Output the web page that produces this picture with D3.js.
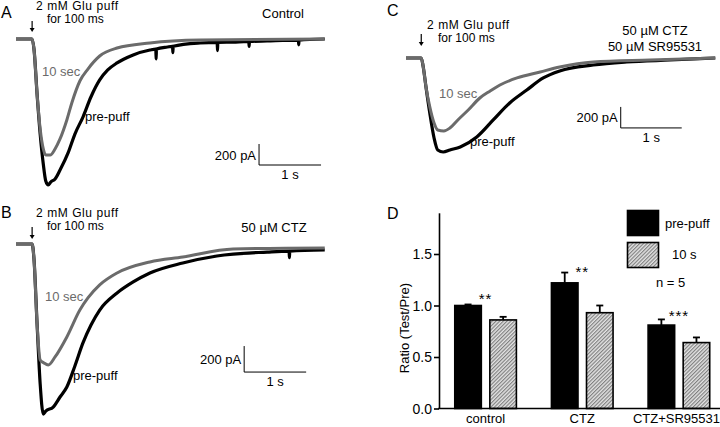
<!DOCTYPE html>
<html><head><meta charset="utf-8">
<script src="https://cdn.jsdelivr.net/npm/d3@7"></script>
<style>
html,body{margin:0;padding:0;background:#fff;}
svg text{font-family:"Liberation Sans",Arial,sans-serif;fill:#000;}
</style></head>
<body><svg id="fig" width="720" height="427"></svg>
<script>
// ---------- Trace data: [time (s), current (pA)] ----------
const traceA_pre = [[0,0],[0.26,0],[0.29,-95],[0.34,-524],[0.39,-905],[0.44,-1190],[0.48,-1352],[0.52,-1390],[0.56,-1362],[0.63,-1333],[0.71,-1248],[0.84,-1085],[0.95,-905],[1.08,-743],[1.21,-550],[1.35,-390],[1.48,-295],[1.63,-228],[1.89,-152],[2.16,-105],[2.255,-96],[2.26,-190],[2.265,-95],[2.44,-76],[2.525,-70],[2.53,-130],[2.535,-69],[2.97,-38],[3.245,-32],[3.25,-110],[3.255,-32],[3.50,-29],[3.755,-24],[3.76,-70],[3.765,-24],[4.05,-19],[4.555,-12],[4.56,-55],[4.565,-12],[4.98,0]];
const traceA_10s = [[0,0],[0.26,0],[0.29,-95],[0.34,-524],[0.39,-857],[0.44,-1047],[0.48,-1105],[0.55,-1105],[0.63,-1047],[0.71,-952],[0.82,-771],[0.90,-609],[1.03,-400],[1.16,-286],[1.35,-162],[1.63,-86],[2.16,-38],[2.97,-10],[4.98,0]];
const traceB_pre = [[0,0],[0.26,0],[0.29,-115],[0.34,-615],[0.39,-1077],[0.44,-1308],[0.48,-1285],[0.60,-1254],[0.71,-1177],[0.82,-1100],[0.95,-938],[1.08,-761],[1.21,-623],[1.35,-508],[1.63,-377],[1.89,-292],[2.16,-223],[2.69,-146],[3.24,-92],[4.05,-62],[4.405,-55],[4.41,-105],[4.415,-55],[4.98,-46]];
const traceB_10s = [[0,0],[0.26,0],[0.29,-115],[0.34,-615],[0.39,-892],[0.45,-915],[0.52,-931],[0.63,-869],[0.82,-715],[1.03,-508],[1.16,-415],[1.35,-315],[1.63,-223],[2.16,-138],[2.69,-100],[3.50,-38],[4.98,-31]];
const traceC_pre = [[0,0],[0.25,0],[0.28,-76],[0.33,-286],[0.39,-524],[0.46,-762],[0.52,-876],[0.61,-895],[0.72,-876],[0.89,-847],[1.16,-752],[1.43,-590],[1.70,-428],[1.98,-305],[2.25,-190],[2.52,-124],[3.07,-67],[3.62,-38],[4.33,-19],[5.07,0]];
const traceC_10s = [[0,0],[0.25,0],[0.28,-76],[0.33,-286],[0.39,-466],[0.46,-620],[0.52,-686],[0.62,-695],[0.72,-667],[0.85,-590],[1.02,-495],[1.21,-381],[1.38,-314],[1.54,-257],[1.82,-190],[2.20,-133],[2.52,-86],[3.07,-38],[4.00,-19],[5.07,0]];

// ---------- Bar chart data ----------
const categories = ["control","CTZ","CTZ+SR95531"];
const seriesNames = ["pre-puff","10 s"];
const prePuff = [1.00,1.22,0.81];
const prePuffErr = [0.01,0.10,0.055];
const tenSec = [0.86,0.93,0.64];
const tenSecErr = [0.03,0.07,0.05];
const yTicks = [0,0.5,1.0,1.5];
const stars = ["**","**","***"];
const starLevel = [1.10,1.36,0.93];

const svg = d3.select("#fig");
const defs = svg.append("defs");
const pat = defs.append("pattern").attr("id","hatch").attr("patternUnits","userSpaceOnUse")
  .attr("width",2.6).attr("height",2.6).attr("patternTransform","rotate(45)");
pat.append("rect").attr("width",2.6).attr("height",2.6).attr("fill","#e4e4e4");
pat.append("line").attr("x1",0.6).attr("y1",0).attr("x2",0.6).attr("y2",2.6).attr("stroke","#7a7a7a").attr("stroke-width",1.1);

const grey = "#6b6b6b";

function drawPanel(cfg){
  const x = d3.scaleLinear().domain([0,1]).range([cfg.x0, cfg.x0+cfg.pxs]);
  const y = d3.scaleLinear().domain([0,-200]).range([cfg.base, cfg.base+cfg.px200]);
  const line = d3.line().x(d=>x(d[0])).y(d=>y(d[1])).curve(d3.curveMonotoneX);
  const g = svg.append("g");
  g.append("path").datum(cfg.pre).attr("d",line).attr("fill","none").attr("stroke","#000").attr("stroke-width",3.2).attr("stroke-linejoin","round");
  g.append("path").datum(cfg.ten).attr("d",line).attr("fill","none").attr("stroke",grey).attr("stroke-width",3).attr("stroke-linejoin","round");
  // puff arrow
  const ax = x(cfg.arrowT);
  g.append("line").attr("x1",ax).attr("x2",ax).attr("y1",cfg.arrowY0).attr("y2",cfg.arrowY1-3).attr("stroke","#000").attr("stroke-width",1.2);
  g.append("path").attr("d",`M${ax-2.5},${cfg.arrowY1-4}L${ax+2.5},${cfg.arrowY1-4}L${ax},${cfg.arrowY1}Z`).attr("fill","#000");
  // scale bar
  const sx = x(cfg.sbT), sy0 = y(cfg.sbI), sy1 = y(cfg.sbI-200);
  g.append("path").attr("d",`M${sx},${sy0}V${sy1}H${x(cfg.sbT+1)}`).attr("fill","none").attr("stroke","#000").attr("stroke-width",1);
  g.append("text").attr("x",sx-3).attr("y",(sy0+sy1)/2+5).attr("text-anchor","end").attr("font-size",13).text("200 pA");
  g.append("text").attr("x",x(cfg.sbT+0.5)).attr("y",sy1+14).attr("text-anchor","middle").attr("font-size",13).text("1 s");
  // labels
  g.append("text").attr("x",cfg.lbl10[0]).attr("y",cfg.lbl10[1]).attr("font-size",13).style("fill",grey).text("10 sec");
  g.append("text").attr("x",cfg.lblPre[0]).attr("y",cfg.lblPre[1]).attr("font-size",13).text("pre-puff");
  g.append("text").attr("x",cfg.letter[0]).attr("y",cfg.letter[1]).attr("font-size",16).text(cfg.name);
  g.append("text").attr("x",cfg.puff[0]).attr("y",cfg.puff[1]).attr("font-size",12).attr("textLength",82).text("2 mM Glu puff");
  g.append("text").attr("x",cfg.puff[0]+11).attr("y",cfg.puff[1]+13).attr("font-size",12).text("for 100 ms");
  cfg.cond.forEach((c,i)=>{
    g.append("text").attr("x",cfg.condXY[0]).attr("y",cfg.condXY[1]+i*16).attr("text-anchor","middle").attr("font-size",13).text(c);
  });
}

drawPanel({name:"A",pre:traceA_pre,ten:traceA_10s,x0:16,base:39,pxs:62,px200:21,arrowT:0.26,arrowY0:21,arrowY1:32,
  sbT:3.92,sbI:-1000,lbl10:[42,76],lblPre:[85,121],letter:[1,18],puff:[36,10],cond:["Control"],condXY:[283,18]});
drawPanel({name:"B",pre:traceB_pre,ten:traceB_10s,x0:16,base:244,pxs:62,px200:26,arrowT:0.26,arrowY0:227,arrowY1:239,
  sbT:3.68,sbI:-785,lbl10:[45,301],lblPre:[73,380],letter:[1,218],puff:[36,217],cond:["50 \u00B5M CTZ"],condXY:[274,232]});
drawPanel({name:"C",pre:traceC_pre,ten:traceC_10s,x0:406,base:58,pxs:61,px200:21,arrowT:0.25,arrowY0:34,arrowY1:46,
  sbT:3.52,sbI:-466,lbl10:[439,98],lblPre:[470,146],letter:[387,16],puff:[427,29],cond:["50 \u00B5M CTZ","50 \u00B5M SR95531"],condXY:[655,35]});

// ---------- Panel D ----------
const yD = d3.scaleLinear().domain([0,1.9]).range([408.5,212.8]);
const xD = d3.scaleBand().domain(categories).range([437.25,727.25]).paddingInner(0.347).paddingOuter(0.1735);
const xS = d3.scaleBand().domain(seriesNames).range([0,xD.bandwidth()]).paddingInner(0.2);
const gD = svg.append("g");
const rows = [];
categories.forEach((c,i)=>{
  rows.push({cat:c,ser:seriesNames[0],v:prePuff[i],e:prePuffErr[i]});
  rows.push({cat:c,ser:seriesNames[1],v:tenSec[i],e:tenSecErr[i]});
});
// error bars
rows.forEach(d=>{
  const cx = xD(d.cat)+xS(d.ser)+xS.bandwidth()/2;
  gD.append("line").attr("x1",cx).attr("x2",cx).attr("y1",yD(d.v)).attr("y2",yD(d.v+d.e)).attr("stroke","#000").attr("stroke-width",1.8);
  gD.append("line").attr("x1",cx-3.5).attr("x2",cx+3.5).attr("y1",yD(d.v+d.e)).attr("y2",yD(d.v+d.e)).attr("stroke","#000").attr("stroke-width",1.8);
});
gD.selectAll("rect.bar").data(rows).join("rect").attr("class","bar")
  .attr("x",d=>xD(d.cat)+xS(d.ser)+0.75).attr("width",xS.bandwidth()-1.5)
  .attr("y",d=>yD(d.v)).attr("height",d=>yD(0)-yD(d.v))
  .attr("fill",d=>d.ser===seriesNames[0]?"#000":"url(#hatch)")
  .attr("stroke","#000").attr("stroke-width",1.6);
// stars
categories.forEach((c,i)=>{
  gD.append("text").attr("x",xD(c)+xD.bandwidth()/2).attr("y",yD(starLevel[i])+8.5)
    .attr("text-anchor","middle").attr("font-size",15).attr("letter-spacing",1).text(stars[i]);
});
// axes
const yAxis = d3.axisLeft(yD).tickValues(yTicks).tickFormat(d3.format(".1f")).tickSize(5).tickSizeOuter(0).tickPadding(2);
const ya = gD.append("g").attr("transform","translate(439,0)").call(yAxis);
ya.select(".domain").attr("stroke-width",1.6);
ya.selectAll(".tick line").attr("stroke-width",1.6);
ya.selectAll(".tick text").attr("font-size",14).attr("font-family","Liberation Sans, Arial, sans-serif").attr("dy","0.35em");
gD.append("line").attr("x1",438.2).attr("x2",720).attr("y1",yD(0)).attr("y2",yD(0)).attr("stroke","#000").attr("stroke-width",1.6);
categories.forEach((c,i)=>{
  gD.append("text").attr("x",xD(c)+xD.bandwidth()/2-(i===2?2.5:0)).attr("y",423).attr("text-anchor","middle").attr("font-size",13).text(c);
});
gD.append("text").attr("transform","translate(409,328) rotate(-90)").attr("text-anchor","middle").attr("font-size",13).text("Ratio (Test/Pre)");
gD.append("text").attr("x",387).attr("y",219).attr("font-size",16).text("D");
// legend
const leg = gD.append("g");
seriesNames.forEach((s,i)=>{
  leg.append("rect").attr("x",627.5).attr("y",210.5+i*32).attr("width",31).attr("height",25)
    .attr("fill",i===0?"#000":"url(#hatch)").attr("stroke","#000").attr("stroke-width",1.6);
  leg.append("text").attr("x",i===0?665:672).attr("y",228+i*31).attr("font-size",13).text(s);
});
leg.append("text").attr("x",656).attr("y",287).attr("font-size",13).text("n = 5");
</script></body></html>
